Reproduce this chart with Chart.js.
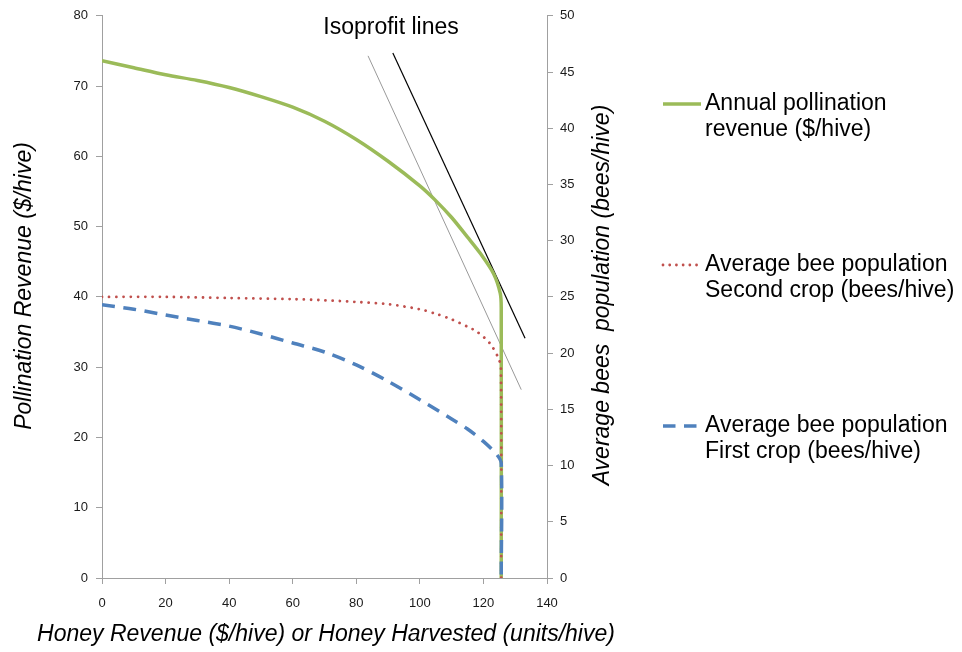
<!DOCTYPE html>
<html>
<head>
<meta charset="utf-8">
<script src="https://cdn.jsdelivr.net/npm/chart.js@4/dist/chart.umd.min.js"></script>
<style>
    body { margin: 0; background: #fff; }
    #wrap { width: 962px; height: 652px; }
</style>
</head>
<body>
<div id="wrap"><canvas id="chart" width="962" height="652"></canvas></div>
<script>
// honey revenue (x) vs pollination revenue, left axis
const revenueX = [0, 10, 20, 30, 40, 50, 60, 70, 80, 90, 100, 105, 110, 115, 119, 123.2, 125.3, 125.6, 125.6];
const revenueY = [73.6, 72.6, 71.6, 70.8, 69.8, 68.5, 67.0, 65.0, 62.4, 59.3, 55.8, 53.7, 51.3, 48.5, 46.2, 43.3, 40.5, 38.5, 0];

// bee population second crop, right axis
const secondCropX = [0, 20, 40, 60, 70, 80, 90, 100, 105, 110, 115, 118, 122.1, 124.8, 125.5, 125.6];
const secondCropY = [25.0, 25.0, 24.9, 24.8, 24.7, 24.55, 24.35, 23.9, 23.5, 23.0, 22.35, 21.9, 20.85, 19.5, 18.6, 0];

// bee population first crop, right axis
const firstCropX = [0, 10, 20, 30, 40, 50, 60, 70, 80, 90, 100, 110, 115, 120, 124.3, 125.6, 125.6];
const firstCropY = [24.3, 23.9, 23.4, 22.9, 22.4, 21.7, 20.9, 20.1, 18.95, 17.5, 15.85, 14.15, 13.25, 12.15, 10.94, 10.2, 0];

// isoprofit lines, left axis
const isoLowX = [83.7, 131.9];
const isoLowY = [74.3, 26.8];
const isoHighX = [91.5, 133.1];
const isoHighY = [74.7, 34.1];

const legendLabels = [
    ['Annual pollination', 'revenue ($/hive)'],
    ['Average bee population', 'Second crop (bees/hive)'],
    ['Average bee population', 'First crop (bees/hive)']
];

function pts(xs, ys) {
    return xs.map((x, i) => ({ x: x, y: ys[i] }));
}

const GREEN = '#9BBB59', RED = '#C0504D', BLUE = '#4F81BD', AXIS = '#A0A0A0';
const BIG = '23px "Liberation Sans", Arial, sans-serif';
const BIG_I = 'italic 23px "Liberation Sans", Arial, sans-serif';

const textPlugin = {
    id: 'texts',
    afterDraw(chart) {
        const ctx = chart.ctx;
        ctx.save();
        ctx.fillStyle = '#000';
        ctx.textAlign = 'center';
        ctx.textBaseline = 'middle';

        ctx.font = BIG;
        ctx.fillText('Isoprofit lines', 391, 28);

        ctx.font = BIG_I;
        ctx.fillText('Honey Revenue ($/hive) or Honey Harvested (units/hive)', 326, 635);

        ctx.save();
        ctx.translate(25, 286);
        ctx.rotate(-Math.PI / 2);
        ctx.fillText('Pollination Revenue ($/hive)', 0, 0);
        ctx.restore();

        ctx.save();
        ctx.translate(603, 295);
        ctx.rotate(-Math.PI / 2);
        ctx.fillText('Average bees  population (bees/hive)', 0, 0);
        ctx.restore();

        // legend
        const rows = [
            { y: 104, color: GREEN, width: 3.5, dash: [], cap: 'butt' },
            { y: 265, color: RED, width: 2.8, dash: [0.01, 6.7], cap: 'round' },
            { y: 426, color: BLUE, width: 3.5, dash: [12.5, 8.5], cap: 'butt' }
        ];
        rows.forEach((r, i) => {
            ctx.beginPath();
            ctx.strokeStyle = r.color;
            ctx.lineWidth = r.width;
            ctx.lineCap = r.cap;
            ctx.setLineDash(r.dash);
            ctx.moveTo(663, r.y);
            ctx.lineTo(r.cap === 'round' ? 698 : 701, r.y);
            ctx.stroke();
            ctx.setLineDash([]);
            ctx.font = BIG;
            ctx.textAlign = 'left';
            ctx.fillText(legendLabels[i][0], 705, r.y);
            ctx.fillText(legendLabels[i][1], 705, r.y + 26);
        });
        ctx.restore();
    }
};

const tickFont = { family: '"Liberation Sans", Arial, sans-serif', size: 13 };

new Chart(document.getElementById('chart'), {
    type: 'line',
    data: {
        datasets: [
            {
                data: pts(firstCropX, firstCropY), yAxisID: 'y1',
                borderColor: BLUE, borderWidth: 3.5, borderDash: [13, 8.5],
                tension: 0.3, pointRadius: 0, order: 0
            },
            {
                data: pts(secondCropX, secondCropY), yAxisID: 'y1',
                borderColor: RED, borderWidth: 2.8, borderDash: [0.01, 7.2], borderCapStyle: 'round',
                tension: 0.3, pointRadius: 0, order: 1
            },
            {
                data: pts(revenueX, revenueY), yAxisID: 'y',
                borderColor: GREEN, borderWidth: 3.5,
                tension: 0.3, pointRadius: 0, order: 2
            },
            {
                data: pts(isoLowX, isoLowY), yAxisID: 'y',
                borderColor: '#999999', borderWidth: 1, pointRadius: 0, order: 3
            },
            {
                data: pts(isoHighX, isoHighY), yAxisID: 'y',
                borderColor: '#000000', borderWidth: 1.2, pointRadius: 0, order: 3
            }
        ]
    },
    options: {
        responsive: false,
        animation: false,
        devicePixelRatio: 1,
        layout: { padding: { top: 15, left: 0, right: 0, bottom: 0 } },
        plugins: { legend: { display: false }, tooltip: { enabled: false } },
        scales: {
            x: {
                type: 'linear', min: 0, max: 140,
                ticks: { stepSize: 20, color: '#1a1a1a', font: tickFont, padding: 12, maxRotation: 0 },
                grid: { drawOnChartArea: false, tickLength: 6, color: AXIS },
                border: { color: AXIS },
                afterFit(s) { s.height = 74; }
            },
            y: {
                position: 'left', min: 0, max: 80,
                ticks: { stepSize: 10, color: '#1a1a1a', font: tickFont, padding: 8 },
                grid: { drawOnChartArea: false, tickLength: 6, color: AXIS },
                border: { color: AXIS },
                afterFit(s) { s.width = 102; }
            },
            y1: {
                position: 'right', min: 0, max: 50,
                ticks: { stepSize: 5, color: '#1a1a1a', font: tickFont, padding: 7 },
                grid: { drawOnChartArea: false, tickLength: 6, color: AXIS },
                border: { color: AXIS },
                afterFit(s) { s.width = 415; }
            }
        }
    },
    plugins: [textPlugin]
});
</script>
</body>
</html>
